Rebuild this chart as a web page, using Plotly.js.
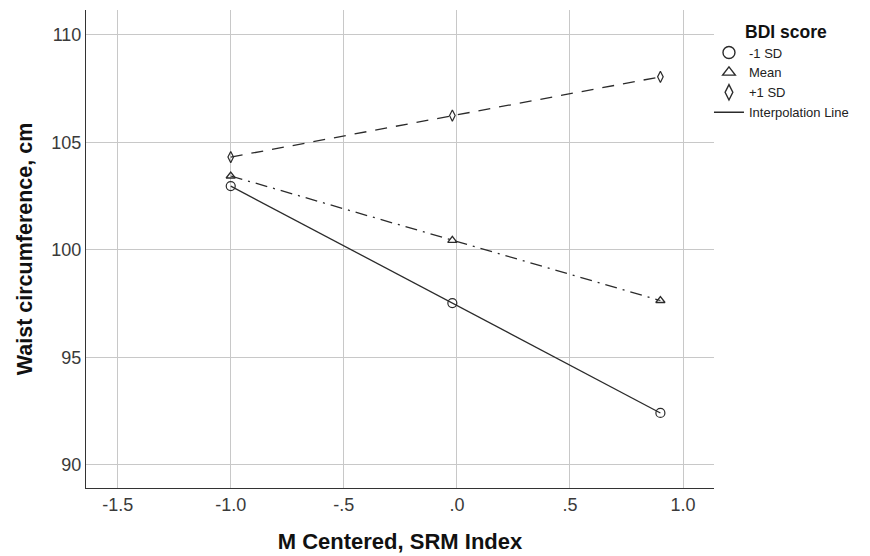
<!DOCTYPE html>
<html>
<head>
<meta charset="utf-8">
<script src="https://cdn.plot.ly/plotly-3.0.1.min.js"></script>
<style>html,body{margin:0;padding:0;background:#fff;}#chart{width:870px;height:556px;}</style>
</head>
<body>
<div id="chart"></div>
<script>
var xValues = [-1.0, -0.02, 0.9];
var lowSD = [102.97, 97.53, 92.42];
var meanBDI = [103.44, 100.45, 97.65];
var highSD = [104.32, 106.25, 108.05];
var seriesNames = ["-1 SD", "Mean", "+1 SD"];
var xTickVals = [-1.5, -1.0, -0.5, 0, 0.5, 1.0];
var xTickText = ["-1.5", "-1.0", "-.5", ".0", ".5", "1.0"];
var yTickVals = [90, 95, 100, 105, 110];

var ink = "#2b2b2b";
var font = "Liberation Sans, Arial, sans-serif";
var pad = "\u00A0\u00A0\u00A0\u00A0\u00A0\u00A0\u00A0";

var traces = [
  {x: xValues, y: lowSD, mode: "lines+markers", showlegend: false,
   line: {color: ink, width: 1.3, dash: "solid"},
   marker: {symbol: "circle-open", size: 9, color: ink, line: {width: 1.2}}},
  {x: xValues, y: meanBDI, mode: "lines+markers", showlegend: false,
   line: {color: ink, width: 1.3, dash: "12px,6px,2px,6px"},
   marker: {symbol: "triangle-up-open", size: 8, color: ink, line: {width: 1.3}}},
  {x: xValues, y: highSD, mode: "lines+markers", showlegend: false,
   line: {color: ink, width: 1.3, dash: "12px,9px"},
   marker: {symbol: "diamond-tall-open", size: 8, color: ink, line: {width: 1.2}}},
  {x: [null], y: [null], mode: "markers", name: seriesNames[0],
   marker: {symbol: "circle-open", size: 12, color: ink, line: {width: 1.4}}},
  {x: [null], y: [null], mode: "markers", name: seriesNames[1],
   marker: {symbol: "triangle-up-open", size: 11, color: ink, line: {width: 1.4}}},
  {x: [null], y: [null], mode: "markers", name: seriesNames[2],
   marker: {symbol: "diamond-tall-open", size: 11, color: ink, line: {width: 1.4}}},
  {x: [null], y: [null], mode: "lines", name: "Interpolation Line",
   line: {color: ink, width: 1.4}}
];

var layout = {
  width: 870, height: 556,
  margin: {l: 86, r: 156, t: 10, b: 68, pad: 0},
  paper_bgcolor: "#fff", plot_bgcolor: "#fff",
  font: {family: font, color: "#333"},
  xaxis: {
    range: [-1.64, 1.137], tickvals: xTickVals, ticktext: xTickText,
    showgrid: true, gridcolor: "#c8c8c8", gridwidth: 1, zeroline: false,
    showline: true, linecolor: "#333", linewidth: 1, ticks: "",
    tickfont: {family: font, size: 18, color: "#3a3a3a"},
    title: {text: "M Centered, SRM Index", font: {family: font, size: 22, color: "#111", weight: "bold"}, standoff: 20}
  },
  yaxis: {
    range: [88.93, 111.16], tickvals: yTickVals,
    showgrid: true, gridcolor: "#c8c8c8", gridwidth: 1, zeroline: false,
    showline: true, linecolor: "#333", linewidth: 1, ticks: "",
    tickfont: {family: font, size: 18, color: "#3a3a3a"},
    title: {text: "Waist circumference, cm", font: {family: font, size: 21.5, color: "#111", weight: "bold"}, standoff: 12}
  },
  legend: {
    x: 0.992, y: 0.99, xanchor: "left", yanchor: "top",
    font: {family: font, size: 13, color: "#222"},
    title: {text: pad + "BDI score", font: {family: font, size: 17.5, color: "#111", weight: "bold"}},
    itemwidth: 30, tracegroupgap: 0, bgcolor: "rgba(0,0,0,0)"
  },
  showlegend: true
};

Plotly.newPlot("chart", traces, layout, {staticPlot: true, displayModeBar: false});
</script>
</body>
</html>
